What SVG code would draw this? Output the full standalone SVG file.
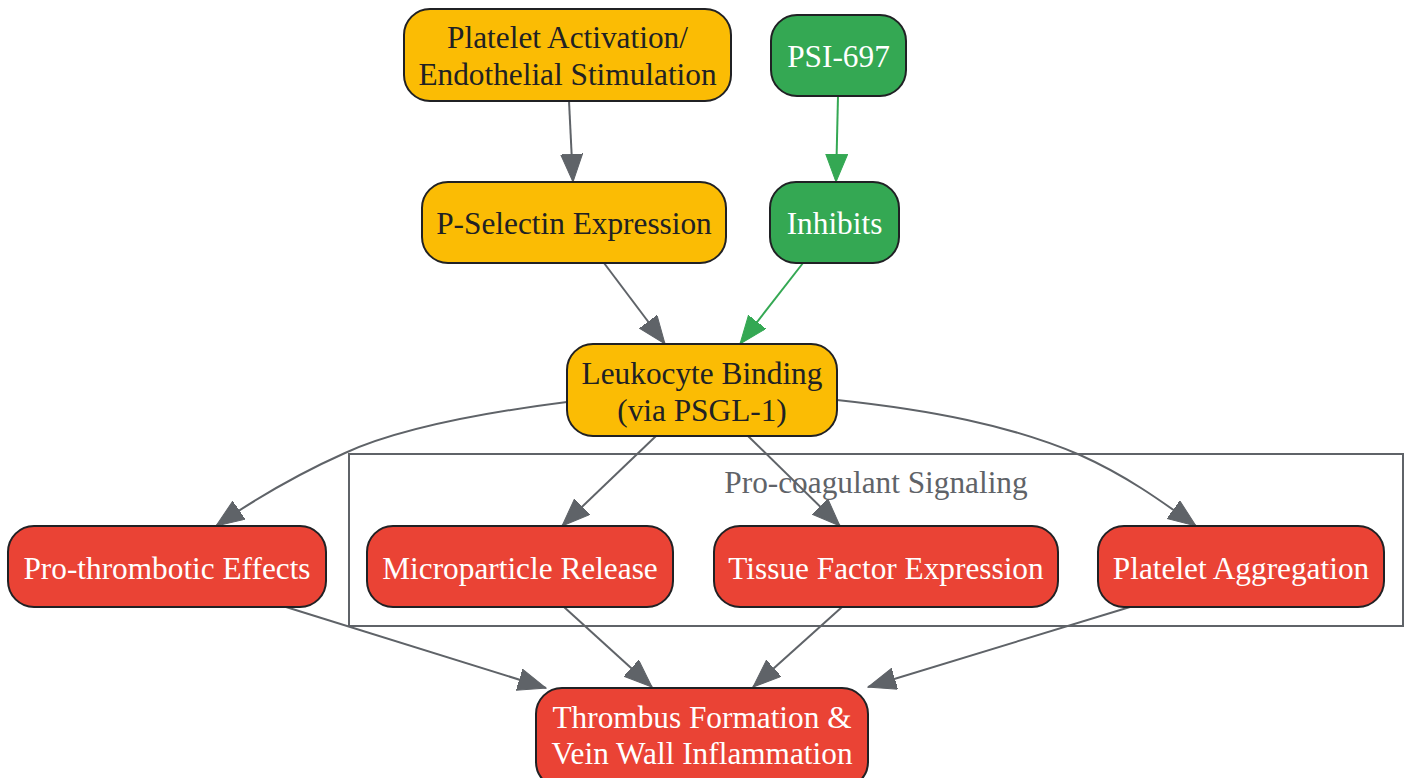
<svg xmlns="http://www.w3.org/2000/svg" width="1408" height="778" viewBox="0 0 1408 778">
<defs>
<style>
.node rect{stroke:#202124;stroke-width:2}
.y rect{fill:#fbbc04}
.g rect{fill:#34a853}
.r rect{fill:#ea4335}
text{font-family:"Liberation Serif","Times New Roman",serif;font-size:31.3px;text-anchor:middle}
.y text{fill:#202124}
.g text,.r text{fill:#ffffff}
.e{fill:none;stroke:#5f6368;stroke-width:2}
.eg{fill:none;stroke:#34a853;stroke-width:2}
.cl{fill:none;stroke:#5f6368;stroke-width:2}
.cll{fill:#5f6368}
</style>
<marker id="ah" markerUnits="userSpaceOnUse" markerWidth="30" markerHeight="24" refX="28" refY="11" orient="auto" viewBox="0 0 30 24">
<path d="M0,0 L28,11 L0,22 Z" fill="#5f6368" stroke="#5f6368" stroke-width="1"/>
</marker>
<marker id="ahg" markerUnits="userSpaceOnUse" markerWidth="30" markerHeight="24" refX="28" refY="11" orient="auto" viewBox="0 0 30 24">
<path d="M0,0 L28,11 L0,22 Z" fill="#34a853" stroke="#34a853" stroke-width="1"/>
</marker>
</defs>
<rect width="1408" height="778" fill="#ffffff"/>
<g id="cluster">
<rect class="cl" x="349" y="454" width="1054" height="172"/>
<text class="cll" x="876" y="493">Pro-coagulant Signaling</text>
</g>
<g id="edges">
<path class="e" d="M569,101 L573,182" marker-end="url(#ah)"/>
<path class="eg" d="M838,96 L836,182" marker-end="url(#ahg)"/>
<path class="e" d="M604,263 L665,344" marker-end="url(#ah)"/>
<path class="eg" d="M803,263 L740,344" marker-end="url(#ahg)"/>
<path class="e" d="M567,402 C480,413 400,428 345,453 C300,473 258,497 216,526" marker-end="url(#ah)"/>
<path class="e" d="M656,436 L562,526" marker-end="url(#ah)"/>
<path class="e" d="M748,436 L840,526" marker-end="url(#ah)"/>
<path class="e" d="M837,400 C930,410 1010,425 1080,455 C1125,475 1160,500 1196,526" marker-end="url(#ah)"/>
<path class="e" d="M286,607 L546,688" marker-end="url(#ah)"/>
<path class="e" d="M564,607 L652,687" marker-end="url(#ah)"/>
<path class="e" d="M842,607 L753,687" marker-end="url(#ah)"/>
<path class="e" d="M1130,607 L868,687" marker-end="url(#ah)"/>
</g>
<g id="platelet_activation" class="node y">
<rect x="404" y="9" width="327" height="92" rx="26"/>
<text x="567.5" y="48">Platelet Activation/</text>
<text x="567.5" y="85">Endothelial Stimulation</text>
</g>
<g id="psi697" class="node g">
<rect x="771" y="15" width="135" height="81" rx="26"/>
<text x="838.5" y="67">PSI-697</text>
</g>
<g id="p_selectin" class="node y">
<rect x="422" y="182" width="304" height="81" rx="26"/>
<text x="574" y="234">P-Selectin Expression</text>
</g>
<g id="inhibits" class="node g">
<rect x="770" y="182" width="129" height="81" rx="26"/>
<text x="834.5" y="234">Inhibits</text>
</g>
<g id="leukocyte" class="node y">
<rect x="567" y="344" width="270" height="92" rx="26"/>
<text x="702" y="384">Leukocyte Binding</text>
<text x="702" y="421">(via PSGL-1)</text>
</g>
<g id="prothrombotic" class="node r">
<rect x="8" y="526" width="318" height="81" rx="26"/>
<text x="167" y="579">Pro-thrombotic Effects</text>
</g>
<g id="microparticle" class="node r">
<rect x="367" y="526" width="306" height="81" rx="26"/>
<text x="520" y="579">Microparticle Release</text>
</g>
<g id="tissue_factor" class="node r">
<rect x="714" y="526" width="344" height="81" rx="26"/>
<text x="886" y="579">Tissue Factor Expression</text>
</g>
<g id="platelet_aggregation" class="node r">
<rect x="1098" y="526" width="286" height="81" rx="26"/>
<text x="1241" y="579">Platelet Aggregation</text>
</g>
<g id="thrombus" class="node r">
<rect x="536" y="688" width="332" height="100" rx="26"/>
<text x="702" y="728">Thrombus Formation &amp;</text>
<text x="702" y="764">Vein Wall Inflammation</text>
</g>
</svg>
